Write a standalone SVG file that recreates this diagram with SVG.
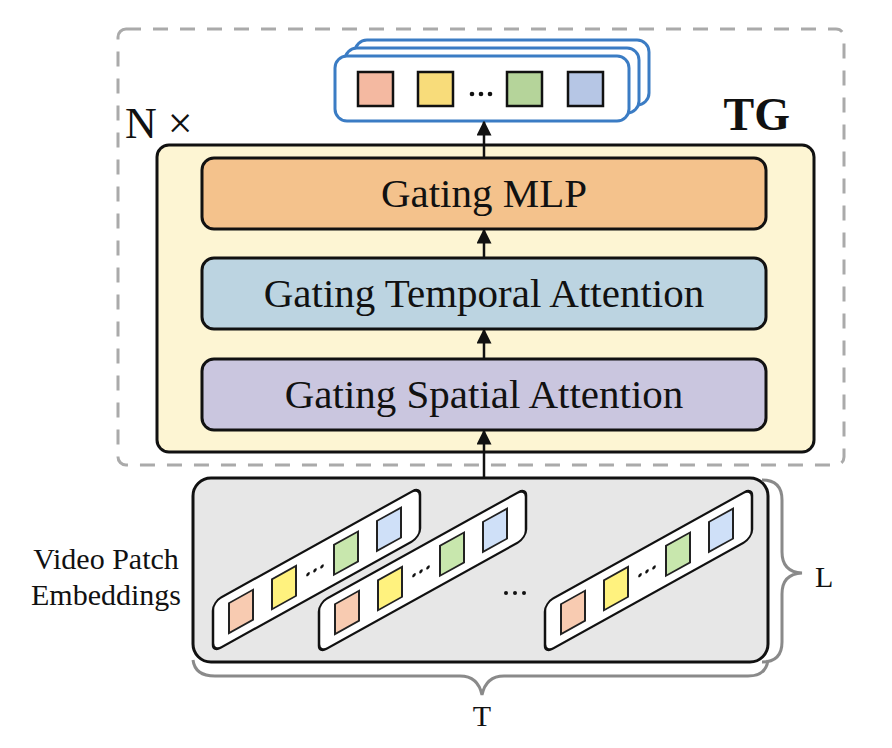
<svg xmlns="http://www.w3.org/2000/svg" width="892" height="748" viewBox="0 0 892 748">
<defs>
<style>
.txt{font-family:"Liberation Serif","Times New Roman",serif;fill:#111}
.out{fill:#fff;stroke:#3b7cc4;stroke-width:3}
.sq{stroke:#111;stroke-width:2.5}
.ssq{stroke:#222;stroke-width:2}
.strip{fill:#fff;stroke:#111;stroke-width:2.5}
.brace{fill:none;stroke:#8a8a8a;stroke-width:3}
.dot{fill:#111}
.arrow{stroke:#111;stroke-width:2.5;fill:none;marker-end:url(#ah)}
</style>
<marker id="ah" viewBox="0 0 10 10" refX="9" refY="5" markerWidth="6" markerHeight="6" orient="auto" markerUnits="strokeWidth">
<path d="M0,0 L10,5 L0,10 z" fill="#111"/>
</marker>
<g id="strip">
<rect class="strip" x="0" y="-50" width="207" height="50" rx="8"/>
<rect class="ssq" x="16" y="-40" width="24" height="30" fill="#f8cbb1"/>
<rect class="ssq" x="59" y="-40" width="24" height="30" fill="#fff27e"/>
<circle class="dot" cx="95" cy="-25" r="1.8"/>
<circle class="dot" cx="102" cy="-25" r="1.8"/>
<circle class="dot" cx="109" cy="-25" r="1.8"/>
<rect class="ssq" x="121" y="-40" width="24" height="30" fill="#c8e7ad"/>
<rect class="ssq" x="164" y="-40" width="24" height="30" fill="#cfe0f8"/>
</g>
</defs>
<rect width="892" height="748" fill="#fff"/>

<g id="repeat-frame">
<rect x="118" y="29" width="726" height="436" rx="8" fill="none" stroke="#aaaaaa" stroke-width="3" stroke-dasharray="15 12"/>
<text class="txt" x="125" y="138" font-size="44">N ×</text>
</g>

<g id="output-tokens">
<rect class="out" x="355" y="40" width="294" height="65" rx="12"/>
<rect class="out" x="345" y="48" width="294" height="65" rx="12"/>
<rect class="out" x="335" y="56" width="294" height="65" rx="12"/>
<rect class="sq" x="358" y="72" width="35" height="34" fill="#f4b9a1"/>
<rect class="sq" x="418" y="72" width="35" height="34" fill="#f8dc7a"/>
<circle class="dot" cx="472" cy="94" r="2.3"/>
<circle class="dot" cx="481" cy="94" r="2.3"/>
<circle class="dot" cx="490" cy="94" r="2.3"/>
<rect class="sq" x="507" y="72" width="35" height="34" fill="#b5d49a"/>
<rect class="sq" x="568" y="72" width="35" height="34" fill="#b6c6e5"/>
</g>

<g id="tg-block">
<rect x="157" y="145" width="657" height="307" rx="12" fill="#fdf5d3" stroke="#111" stroke-width="3"/>
<text class="txt" x="790" y="130" font-size="46" font-weight="bold" text-anchor="end">TG</text>
</g>

<g id="gating-mlp">
<rect x="202" y="158" width="564" height="71" rx="12" fill="#f4c28c" stroke="#111" stroke-width="3"/>
<text class="txt" x="484" y="207" font-size="41" text-anchor="middle">Gating MLP</text>
</g>

<g id="gating-temporal">
<rect x="202" y="258" width="564" height="71" rx="12" fill="#bcd4e1" stroke="#111" stroke-width="3"/>
<text class="txt" x="484" y="307" font-size="41" text-anchor="middle">Gating Temporal Attention</text>
</g>

<g id="gating-spatial">
<rect x="202" y="359" width="564" height="71" rx="12" fill="#cac6df" stroke="#111" stroke-width="3"/>
<text class="txt" x="484" y="408" font-size="41" text-anchor="middle">Gating Spatial Attention</text>
</g>

<g id="patch-embeddings">
<rect x="193" y="478" width="575" height="184" rx="18" fill="#e7e7e7" stroke="#111" stroke-width="3"/>
<use href="#strip" transform="translate(213,652) skewY(-29.05)"/>
<use href="#strip" transform="translate(319,653) skewY(-29.05)"/>
<use href="#strip" transform="translate(545,653) skewY(-29.05)"/>
<circle class="dot" cx="506" cy="593" r="2"/>
<circle class="dot" cx="515" cy="593" r="2"/>
<circle class="dot" cx="524" cy="593" r="2"/>
<text class="txt" x="106" y="569" font-size="30" text-anchor="middle">Video Patch</text>
<text class="txt" x="106" y="605" font-size="30" text-anchor="middle">Embeddings</text>
</g>

<g id="brace-L">
<path class="brace" d="M762,480 Q782,480 782,500 L782,552 Q782,572 802,573 Q782,574 782,594 L782,642 Q782,662 762,662"/>
<text class="txt" x="815" y="587" font-size="30">L</text>
</g>

<g id="brace-T">
<path class="brace" d="M193,660 Q195,676 215,676 L460,676 Q478,676 482,695 Q486,676 504,676 L748,676 Q766,676 768,660"/>
<text class="txt" x="482" y="726" font-size="30" text-anchor="middle">T</text>
</g>

<g id="connectors">
<line class="arrow" x1="484" y1="478" x2="484" y2="431"/>
<line class="arrow" x1="484" y1="359" x2="484" y2="330"/>
<line class="arrow" x1="484" y1="258" x2="484" y2="230"/>
<line class="arrow" x1="484" y1="157" x2="484" y2="122"/>
</g>
</svg>
